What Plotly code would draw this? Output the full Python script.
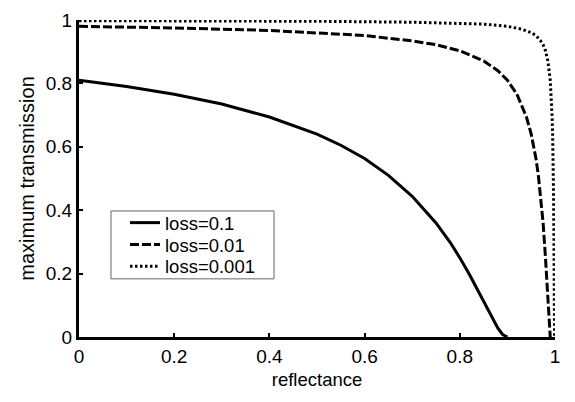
import plotly.graph_objects as go

# loss = 0.1
r_a = [0, 0.1, 0.2, 0.3, 0.4, 0.5, 0.55, 0.6, 0.65, 0.7, 0.75, 0.78, 0.8, 0.82, 0.84, 0.86, 0.87, 0.88, 0.89, 0.9]
t_a = [0.81, 0.790, 0.766, 0.735, 0.694, 0.640, 0.605, 0.563, 0.510, 0.444, 0.360, 0.298, 0.250, 0.198, 0.141, 0.082, 0.053, 0.028, 0.008, 0.0]

# loss = 0.01
r_b = [0, 0.2, 0.4, 0.5, 0.6, 0.7, 0.75, 0.8, 0.85, 0.88, 0.9, 0.92, 0.94, 0.95, 0.96, 0.965, 0.97, 0.975, 0.98, 0.983, 0.985, 0.987, 0.989, 0.99]
t_b = [0.980, 0.975, 0.967, 0.960, 0.951, 0.934, 0.922, 0.903, 0.871, 0.840, 0.810, 0.766, 0.694, 0.640, 0.563, 0.510, 0.444, 0.360, 0.250, 0.169, 0.111, 0.053, 0.008, 0.0]

# loss = 0.001
r_c = [0, 0.3, 0.5, 0.7, 0.8, 0.85, 0.9, 0.93, 0.95, 0.96, 0.97, 0.975, 0.98, 0.985, 0.99, 0.992, 0.994, 0.995, 0.996, 0.997, 0.998, 0.9985, 0.999]
t_c = [0.998, 0.997, 0.996, 0.993, 0.990, 0.987, 0.980, 0.971, 0.960, 0.951, 0.934, 0.922, 0.903, 0.871, 0.810, 0.766, 0.694, 0.640, 0.563, 0.444, 0.250, 0.111, 0.0]

names = ["loss=0.1", "loss=0.01", "loss=0.001"]
tick_vals = [0, 0.2, 0.4, 0.6, 0.8, 1]
tick_text = ["0", "0.2", "0.4", "0.6", "0.8", "1"]

FONT = "Liberation Sans, Arial, sans-serif"

fig = go.Figure()
fig.add_trace(go.Scatter(x=r_a, y=t_a, mode="lines", name=names[0], legend="legend",
                         line=dict(color="black", width=3, dash="solid")))
fig.add_trace(go.Scatter(x=r_b, y=t_b, mode="lines", name=names[1], legend="legend2",
                         line=dict(color="black", width=3, dash="9px,3px")))
fig.add_trace(go.Scatter(x=r_c, y=t_c, mode="lines", name=names[2], legend="legend3",
                         line=dict(color="black", width=3, dash="2.5px,2.5px")))

axis_common = dict(
    range=[0, 1], tickvals=tick_vals, ticktext=tick_text,
    showgrid=False, zeroline=False, showline=True, linewidth=3, linecolor="black",
    ticks="inside", ticklen=4, tickwidth=2, tickcolor="black",
    ticklabeloverflow="allow",
    tickfont=dict(family=FONT, size=19, color="black"),
)

leg_common = dict(xanchor="left", yanchor="middle", x=0.0966,
                  bgcolor="rgba(0,0,0,0)", borderwidth=0,
                  font=dict(family=FONT, size=18.5, color="black"))

fig.update_layout(
    width=575, height=402,
    margin=dict(l=79, r=20, t=10, b=65),
    paper_bgcolor="white", plot_bgcolor="white",
    font=dict(family=FONT, color="black"),
    xaxis=dict(**axis_common,
               title=dict(text="reflectance", font=dict(family=FONT, size=18.5, color="black"), standoff=8)),
    yaxis=dict(**axis_common,
               title=dict(text="maximum transmission", font=dict(family=FONT, size=20, color="black"), standoff=6)),
    legend=dict(**leg_common, y=0.3593),
    legend2=dict(**leg_common, y=0.2905),
    legend3=dict(**leg_common, y=0.2217),
    shapes=[dict(type="rect", xref="paper", yref="paper",
                 x0=0.0672, x1=0.4097, y0=0.1835, y1=0.3976,
                 line=dict(color="#666", width=1), fillcolor="white", layer="below")],
    showlegend=True,
)

fig.write_html("out.html")
